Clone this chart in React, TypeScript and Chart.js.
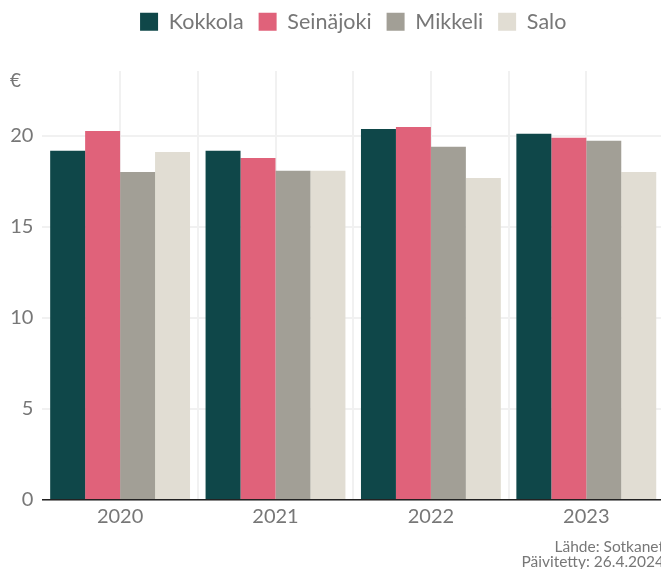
import React, { useEffect, useRef } from 'react';
import { Chart, registerables } from 'chart.js';

Chart.register(...registerables);

const years = ['2020', '2021', '2022', '2023'];
const seriesNames = ['Kokkola', 'Seinäjoki', 'Mikkeli', 'Salo'];
const kokkola = [19.18, 19.18, 20.38, 20.11];
const seinajoki = [20.27, 18.79, 20.49, 19.89];
const mikkeli = [18.02, 18.08, 19.4, 19.73];
const salo = [19.12, 18.08, 17.69, 18.02];
const yTickValues = [0, 5, 10, 15, 20];
const unitLabel = '€';
const sourceLines = ['Lähde: Sotkanet', 'Päivitetty: 26.4.2024'];

const colors = ['#0f4749', '#e0627a', '#a29f96', '#e1ddd3'];
const FONT = 'Lato, "DejaVu Sans", sans-serif';
const TEXT = '#777777';
const GRID = '#f1f1f1';
const TOP_PAD = -4;

export default function App() {
  const ref = useRef<HTMLCanvasElement | null>(null);

  useEffect(() => {
    document.documentElement.style.overflow = 'hidden';
    document.body.style.overflow = 'hidden';
    const canvas = ref.current;
    if (!canvas) return;
    const all = [...kokkola, ...seinajoki, ...mikkeli, ...salo];
    const yMax = Math.max(...all) * 1.15;

    const legendHeight = {
      id: 'legendHeight',
      beforeInit(chart: any) {
        const legend = chart.legend;
        if (!legend) return;
        const orig = legend.fit;
        legend.fit = function () {
          orig.call(this);
          this.height = 71 - TOP_PAD;
        };
      },
    };
    const unitPlugin = {
      id: 'unitPlugin',
      afterDraw(chart: any) {
        const ctx = chart.ctx;
        ctx.save();
        ctx.font = `19px ${FONT}`;
        ctx.fillStyle = TEXT;
        ctx.textAlign = 'left';
        ctx.textBaseline = 'middle';
        ctx.fillText(unitLabel, 10, 81);
        ctx.restore();
      },
    };

    const data = [kokkola, seinajoki, mikkeli, salo];
    const chart = new Chart(canvas, {
      type: 'bar',
      data: {
        labels: years,
        datasets: seriesNames.map((name, i) => ({
          label: name,
          data: data[i],
          backgroundColor: colors[i],
          borderWidth: 0,
          barPercentage: 1,
          categoryPercentage: 0.9,
        })),
      },
      options: {
        animation: false,
        responsive: true,
        maintainAspectRatio: false,
        layout: { padding: { top: TOP_PAD, left: 0, right: 0, bottom: 0 } },
        plugins: {
          legend: {
            position: 'top',
            fullSize: false,
            labels: {
              boxWidth: 18,
              boxHeight: 18,
              padding: 15,
              color: TEXT,
              font: { family: FONT, size: 21.5 },
            },
          },
          title: {
            display: true,
            position: 'bottom',
            align: 'end',
            text: sourceLines,
            color: TEXT,
            padding: 0,
            font: { family: FONT, size: 15.5, weight: 'normal', lineHeight: 0.97 },
          },
          tooltip: { enabled: false },
        },
        scales: {
          x: {
            type: 'category',
            position: 'bottom',
            offset: true,
            grid: {
              offset: true,
              drawTicks: false,
              color: (c: any) => (c.index === 0 ? 'rgba(0,0,0,0)' : GRID),
              lineWidth: 2,
            },
            border: { display: true, color: '#222222', width: 1.5 },
            ticks: { padding: 5, color: TEXT, font: { family: FONT, size: 20 } },
            afterFit(scale: any) {
              scale.height = 40;
            },
          },
          x2: {
            type: 'category',
            labels: years,
            position: 'top',
            offset: true,
            grid: { offset: false, drawTicks: false, color: GRID, lineWidth: 2 },
            border: { display: false },
            ticks: { display: false },
          },
          y: {
            min: 0,
            max: yMax,
            grid: { drawTicks: false, color: GRID, lineWidth: 2 },
            border: { display: false },
            ticks: {
              stepSize: 5,
              padding: 9,
              color: TEXT,
              font: { family: FONT, size: 20 },
            },
            afterBuildTicks(scale: any) {
              scale.ticks = yTickValues.map((v) => ({ value: v }));
            },
            afterFit(scale: any) {
              scale.width = 42.4;
            },
          },
        },
      },
      plugins: [legendHeight, unitPlugin],
    });
    return () => chart.destroy();
  }, []);

  return (
    <div style={{ position: 'absolute', left: 0, top: 0, width: 664, height: 570 }}>
      <canvas ref={ref} />
    </div>
  );
}
